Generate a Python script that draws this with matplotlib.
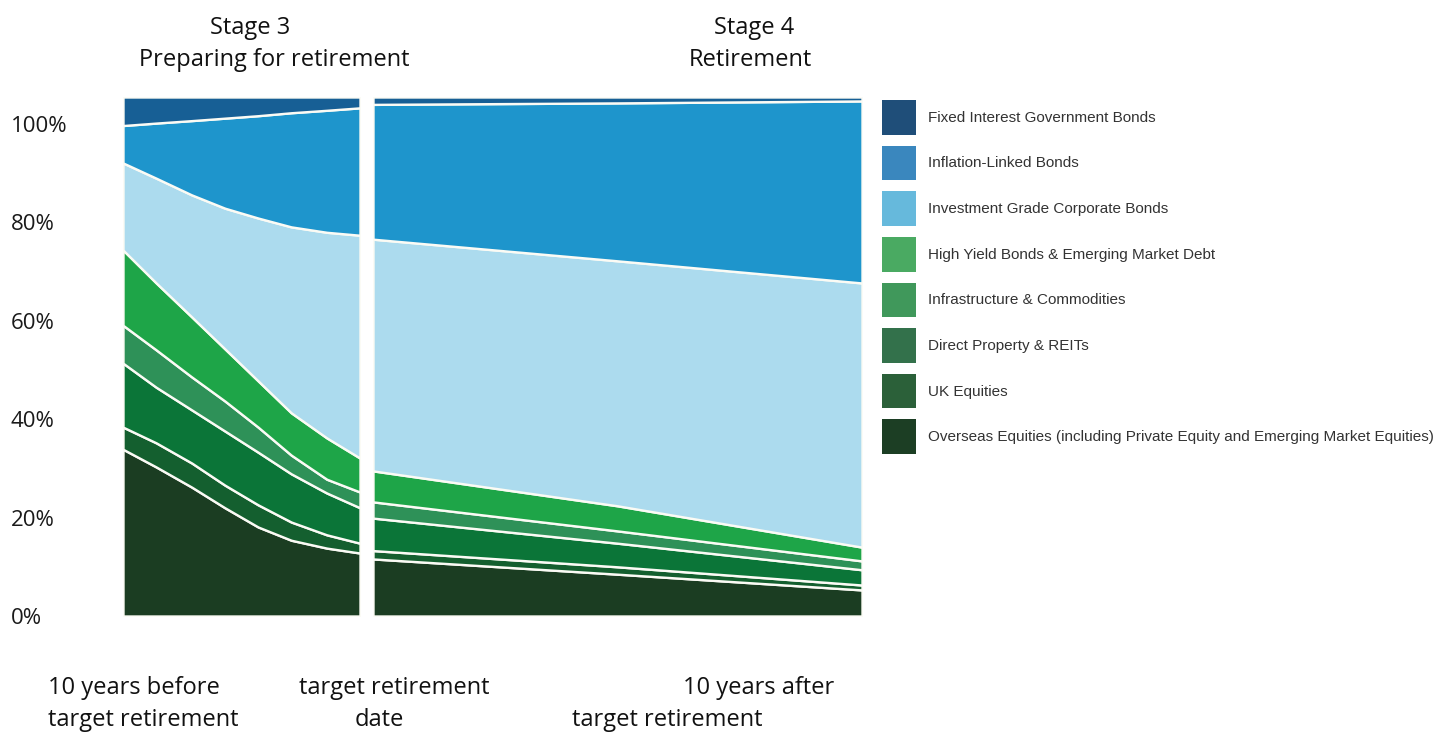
import matplotlib
matplotlib.use("Agg")
import matplotlib.pyplot as plt
from matplotlib.patches import Patch

plt.rcParams['font.family'] = ['Open Sans', 'DejaVu Sans']

labels = [
    "Fixed Interest Government Bonds",
    "Inflation-Linked Bonds",
    "Investment Grade Corporate Bonds",
    "High Yield Bonds & Emerging Market Debt",
    "Infrastructure & Commodities",
    "Direct Property & REITs",
    "UK Equities",
    "Overseas Equities (including Private Equity and Emerging Market Equities)",
]

# years relative to target retirement date
years_stage3 = [-10, -8.6, -7.1, -5.7, -4.3, -2.9, -1.4, 0]
years_stage4 = [0, 5, 10]

# allocations, % (bottom band first)
overseas_3 = [33.9, 30.3, 26.2, 22.0, 18.1, 15.4, 13.8, 12.8]
uk_3 = [4.5, 4.9, 4.9, 4.6, 4.5, 3.7, 2.7, 2.0]
property_3 = [13.0, 11.3, 10.8, 11.0, 10.7, 9.8, 8.5, 7.2]
infra_3 = [7.7, 7.6, 6.7, 6.1, 5.1, 3.8, 2.8, 3.2]
high_yield_3 = [15.3, 13.6, 12.2, 10.6, 9.4, 8.6, 8.4, 6.9]
corporate_3 = [17.7, 21.3, 24.8, 28.6, 33.1, 37.8, 41.8, 45.3]
inflation_3 = [7.6, 11.2, 15.1, 18.3, 20.8, 23.2, 24.8, 25.9]
fixed_3 = [5.8, 5.3, 4.8, 4.3, 3.8, 3.2, 2.7, 2.2]

overseas_4 = [11.6, 8.5, 5.3]
uk_4 = [1.7, 1.5, 1.0]
property_4 = [6.6, 4.8, 3.1]
infra_4 = [3.3, 2.5, 1.8]
high_yield_4 = [6.3, 5.1, 2.8]
corporate_4 = [47.1, 49.8, 53.7]
inflation_4 = [27.4, 32.1, 37.0]
fixed_4 = [1.5, 1.2, 0.8]

# area colours (bottom first) and legend swatch colours (legend order)
area_colors = ["#1b3d22", "#145f2f", "#0b7538", "#2e9158", "#1ea548",
               "#acdbee", "#1e95cc", "#175f95"]
legend_colors = ["#1f4e79", "#3a87be", "#66b9dc", "#4aaa62",
                 "#40985b", "#33714b", "#2b6039", "#1c3e24"]

Y_TOP = 105.5
Y_BOTTOM = 0


def px(x, y):
    return x / 1452, 1 - y / 732


def DrawPanel(ax, years, series):
    ax.stackplot(years, *series, colors=area_colors,
                 edgecolor="#fbfbf5", linewidth=1.7)
    ax.set_xlim(years[0], years[-1])
    ax.set_ylim(Y_BOTTOM, Y_TOP)
    for s in ax.spines.values():
        s.set_visible(False)
    ax.set_xticks([])
    ax.set_yticks([])


fig = plt.figure(figsize=(14.52, 7.32), dpi=100)

ax3 = fig.add_axes([123 / 1452, 116 / 732, 237 / 1452, 519 / 732])
ax4 = fig.add_axes([373 / 1452, 116 / 732, 489 / 1452, 519 / 732])

DrawPanel(ax3, years_stage3, [overseas_3, uk_3, property_3, infra_3,
                              high_yield_3, corporate_3, inflation_3, fixed_3])
DrawPanel(ax4, years_stage4, [overseas_4, uk_4, property_4, infra_4,
                              high_yield_4, corporate_4, inflation_4, fixed_4])

ax3.set_yticks([0, 20, 40, 60, 80, 100])
ax3.set_yticklabels(["0%", "20%", "40%", "60%", "80%", "100%"],
                    fontsize=16, color="#1a1a1a", ha="left")
ax3.tick_params(axis="y", length=0, pad=81)

handles = [Patch(facecolor=c, edgecolor="none") for c in legend_colors]
fig.legend(handles, labels, loc="upper left", bbox_to_anchor=px(882, 100),
           frameon=False, handlelength=2.2, handleheight=3.11,
           labelspacing=0.72, handletextpad=0.8, borderpad=0, borderaxespad=0,
           labelcolor="#333333", prop={"family": "Liberation Sans", "size": 11})

title_kw = dict(ha="center", va="center", fontsize=17, color="#111111")
fig.text(*px(250, 28), "Stage 3", **title_kw)
fig.text(*px(274, 60), "Preparing for retirement", **title_kw)
fig.text(*px(754, 28), "Stage 4", **title_kw)
fig.text(*px(750, 60), "Retirement", **title_kw)

fig.text(*px(134, 688), "10 years before", **title_kw)
fig.text(*px(143, 720), "target retirement", **title_kw)
fig.text(*px(394, 688), "target retirement", **title_kw)
fig.text(*px(379, 720), "date", **title_kw)
fig.text(*px(759, 688), "10 years after", **title_kw)
fig.text(*px(667, 720), "target retirement", **title_kw)

fig.savefig("out.png", dpi=100)
